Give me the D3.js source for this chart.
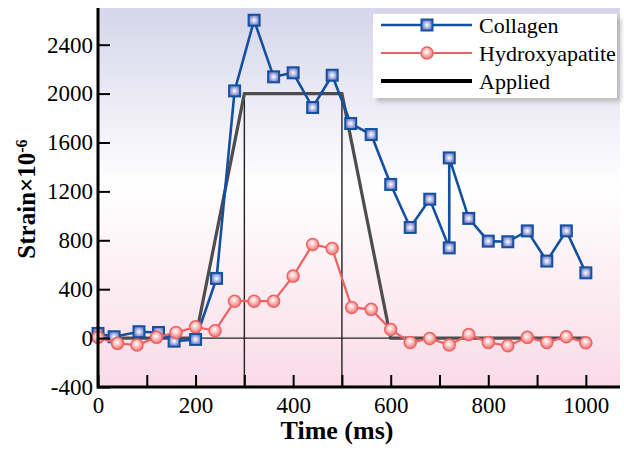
<!DOCTYPE html>
<html>
<head>
<meta charset="utf-8">
<script src="https://cdn.jsdelivr.net/npm/d3@7"></script>
<style>
  body { margin: 0; background: #fff; }
  svg { display: block; font-family: "Liberation Serif", "Times New Roman", serif; }
</style>
</head>
<body>
<svg id="chart" width="624" height="450"></svg>
<script>
// values
const collagenTime = [0, 33, 84, 124, 156, 200, 243, 280, 320, 360, 400, 440, 480, 518, 560, 600, 640, 680, 720, 720, 760, 800, 840, 880, 920, 960, 1000];
const collagenStrain = [38, 11, 52, 46, -25, -11, 488, 2022, 2600, 2137, 2170, 1886, 2150, 1755, 1665, 1257, 905, 1136, 738, 1474, 979, 793, 788, 877, 630, 877, 534];

const hydroTime = [0, 40, 80, 120, 160, 200, 240, 280, 320, 360, 400, 440, 480, 520, 560, 600, 640, 680, 720, 760, 800, 840, 880, 920, 960, 1000];
const hydroStrain = [6, -43, -57, 6, 46, 92, 60, 302, 302, 302, 507, 766, 733, 251, 235, 71, -36, -3, -57, 30, -35, -63, 6, -35, 11, -38];

const appliedTime = [0, 200, 300, 500, 600, 1000];
const appliedStrain = [0, 0, 2000, 2000, 0, 0];

const xTicks = [100, 200, 300, 400, 500, 600, 700, 800, 900, 1000];
const xLabels = [0, 200, 400, 600, 800, 1000];
const yTicks = [-400, 0, 400, 800, 1200, 1600, 2000, 2400];

const seriesNames = ["Collagen", "Hydroxyapatite", "Applied"];

const svg = d3.select("#chart");

const x = d3.scaleLinear().domain([0, 1070]).range([98, 620]);
const y = d3.scaleLinear().domain([-400, 2700]).range([387, 8]);

const defs = svg.append("defs");

// background: lavender top -> white -> pink bottom
const bg = defs.append("linearGradient").attr("id", "bg")
    .attr("x1", 0).attr("y1", 0).attr("x2", 0).attr("y2", 1);
bg.append("stop").attr("offset", "0%").attr("stop-color", "#d6d5ea");
bg.append("stop").attr("offset", "47%").attr("stop-color", "#ffffff");
bg.append("stop").attr("offset", "100%").attr("stop-color", "#f9dbe7");

const sqGrad = defs.append("radialGradient").attr("id", "sqGrad");
sqGrad.append("stop").attr("offset", "0%").attr("stop-color", "#ffffff");
sqGrad.append("stop").attr("offset", "100%").attr("stop-color", "#6d78c4");

const ciGrad = defs.append("radialGradient").attr("id", "ciGrad")
    .attr("cx", "45%").attr("cy", "40%");
ciGrad.append("stop").attr("offset", "0%").attr("stop-color", "#ffffff");
ciGrad.append("stop").attr("offset", "100%").attr("stop-color", "#f48a8a");

const blur = defs.append("filter").attr("id", "shadow")
    .attr("x", "-10%").attr("y", "-10%").attr("width", "130%").attr("height", "140%");
blur.append("feGaussianBlur").attr("stdDeviation", 2);

svg.append("rect")
    .attr("x", x(0)).attr("y", y(2700))
    .attr("width", x(1070) - x(0)).attr("height", y(-400) - y(2700))
    .attr("fill", "url(#bg)");

// thin reference lines
const thin = svg.append("g").attr("stroke", "#222").attr("stroke-width", 1.4);
thin.append("line").attr("x1", x(0)).attr("x2", x(600)).attr("y1", y(0)).attr("y2", y(0));
[300, 500].forEach(t => {
    thin.append("line").attr("x1", x(t)).attr("x2", x(t)).attr("y1", y(-400)).attr("y2", y(2000));
});

const line = d3.line().x(d => x(d[0])).y(d => y(d[1]));

// applied
svg.append("path")
    .attr("d", line(d3.zip(appliedTime, appliedStrain)))
    .attr("fill", "none").attr("stroke", "#4d4d4d").attr("stroke-width", 3.2);

// collagen
const colData = d3.zip(collagenTime, collagenStrain);
svg.append("path")
    .attr("d", line(colData))
    .attr("fill", "none").attr("stroke", "#1450a0").attr("stroke-width", 2.6);
svg.selectAll(".sq").data(colData).enter().append("rect")
    .attr("class", "sq")
    .attr("x", d => x(d[0]) - 5.5).attr("y", d => y(d[1]) - 5.5)
    .attr("width", 11).attr("height", 11)
    .attr("fill", "url(#sqGrad)").attr("stroke", "#1450a0").attr("stroke-width", 2);

// hydroxyapatite
const hyData = d3.zip(hydroTime, hydroStrain);
svg.append("path")
    .attr("d", line(hyData))
    .attr("fill", "none").attr("stroke", "#f06060").attr("stroke-width", 2.2);
svg.selectAll(".ci").data(hyData).enter().append("circle")
    .attr("class", "ci")
    .attr("cx", d => x(d[0])).attr("cy", d => y(d[1])).attr("r", 6)
    .attr("fill", "url(#ciGrad)").attr("stroke", "#f06060").attr("stroke-width", 1.5);

// axes
const xAxis = svg.append("g")
    .attr("transform", "translate(0," + y(-400) + ")")
    .call(d3.axisBottom(x).tickValues(xTicks.concat([0]))
        .tickSize(-12).tickSizeOuter(0).tickPadding(10)
        .tickFormat(d => xLabels.includes(d) ? String(d) : ""));
xAxis.select(".domain").remove();
xAxis.selectAll(".tick line").attr("stroke", "#000").attr("stroke-width", 2);
xAxis.selectAll(".tick text").attr("font-size", 23).attr("font-family", "Liberation Serif").attr("fill", "#000");

const yAxis = svg.append("g")
    .attr("transform", "translate(" + x(0) + ",0)")
    .call(d3.axisLeft(y).tickValues(yTicks)
        .tickSize(-12).tickSizeOuter(0).tickPadding(5)
        .tickFormat(d => String(d)));
yAxis.select(".domain").remove();
yAxis.selectAll(".tick line").attr("stroke", "#000").attr("stroke-width", 2);
yAxis.selectAll(".tick text").attr("font-size", 23).attr("font-family", "Liberation Serif").attr("fill", "#000");

svg.append("line")
    .attr("x1", x(0)).attr("x2", x(1070)).attr("y1", y(-400)).attr("y2", y(-400))
    .attr("stroke", "#000").attr("stroke-width", 3);
svg.append("line")
    .attr("x1", x(0)).attr("x2", x(0)).attr("y1", y(-400) + 1.5).attr("y2", y(2700))
    .attr("stroke", "#000").attr("stroke-width", 3);

// axis titles
svg.append("text")
    .attr("x", 337).attr("y", 439)
    .attr("text-anchor", "middle").attr("font-weight", "bold").attr("font-size", 26)
    .text("Time (ms)");

const yt = svg.append("text")
    .attr("transform", "translate(35,199) rotate(-90)")
    .attr("text-anchor", "middle").attr("font-weight", "bold").attr("font-size", 25);
yt.append("tspan").text("Strain×10");
yt.append("tspan").attr("baseline-shift", "super").attr("font-size", 16).text("-6");

// legend
const lg = svg.append("g").attr("transform", "translate(373,14)");
lg.append("rect").attr("x", 4).attr("y", 4).attr("width", 244).attr("height", 84)
    .attr("fill", "#999").attr("opacity", 0.55).attr("filter", "url(#shadow)");
lg.append("rect").attr("width", 244).attr("height", 84).attr("fill", "#fff");

const rows = lg.selectAll(".row").data(seriesNames).enter().append("g")
    .attr("transform", (d, i) => "translate(0," + [11, 39, 67][i] + ")");
rows.append("line").attr("x1", 8).attr("x2", 99)
    .attr("stroke", (d, i) => ["#1450a0", "#f06060", "#000"][i])
    .attr("stroke-width", (d, i) => [2.6, 2.2, 4][i]);
rows.filter((d, i) => i === 0).append("rect")
    .attr("x", 54 - 5.5).attr("y", -5.5).attr("width", 11).attr("height", 11)
    .attr("fill", "url(#sqGrad)").attr("stroke", "#1450a0").attr("stroke-width", 2);
rows.filter((d, i) => i === 1).append("circle")
    .attr("cx", 54).attr("r", 6)
    .attr("fill", "url(#ciGrad)").attr("stroke", "#f06060").attr("stroke-width", 1.5);
rows.append("text").attr("x", 106).attr("y", 8)
    .attr("font-size", 22).attr("fill", "#000")
    .text(d => d);
</script>
</body>
</html>
